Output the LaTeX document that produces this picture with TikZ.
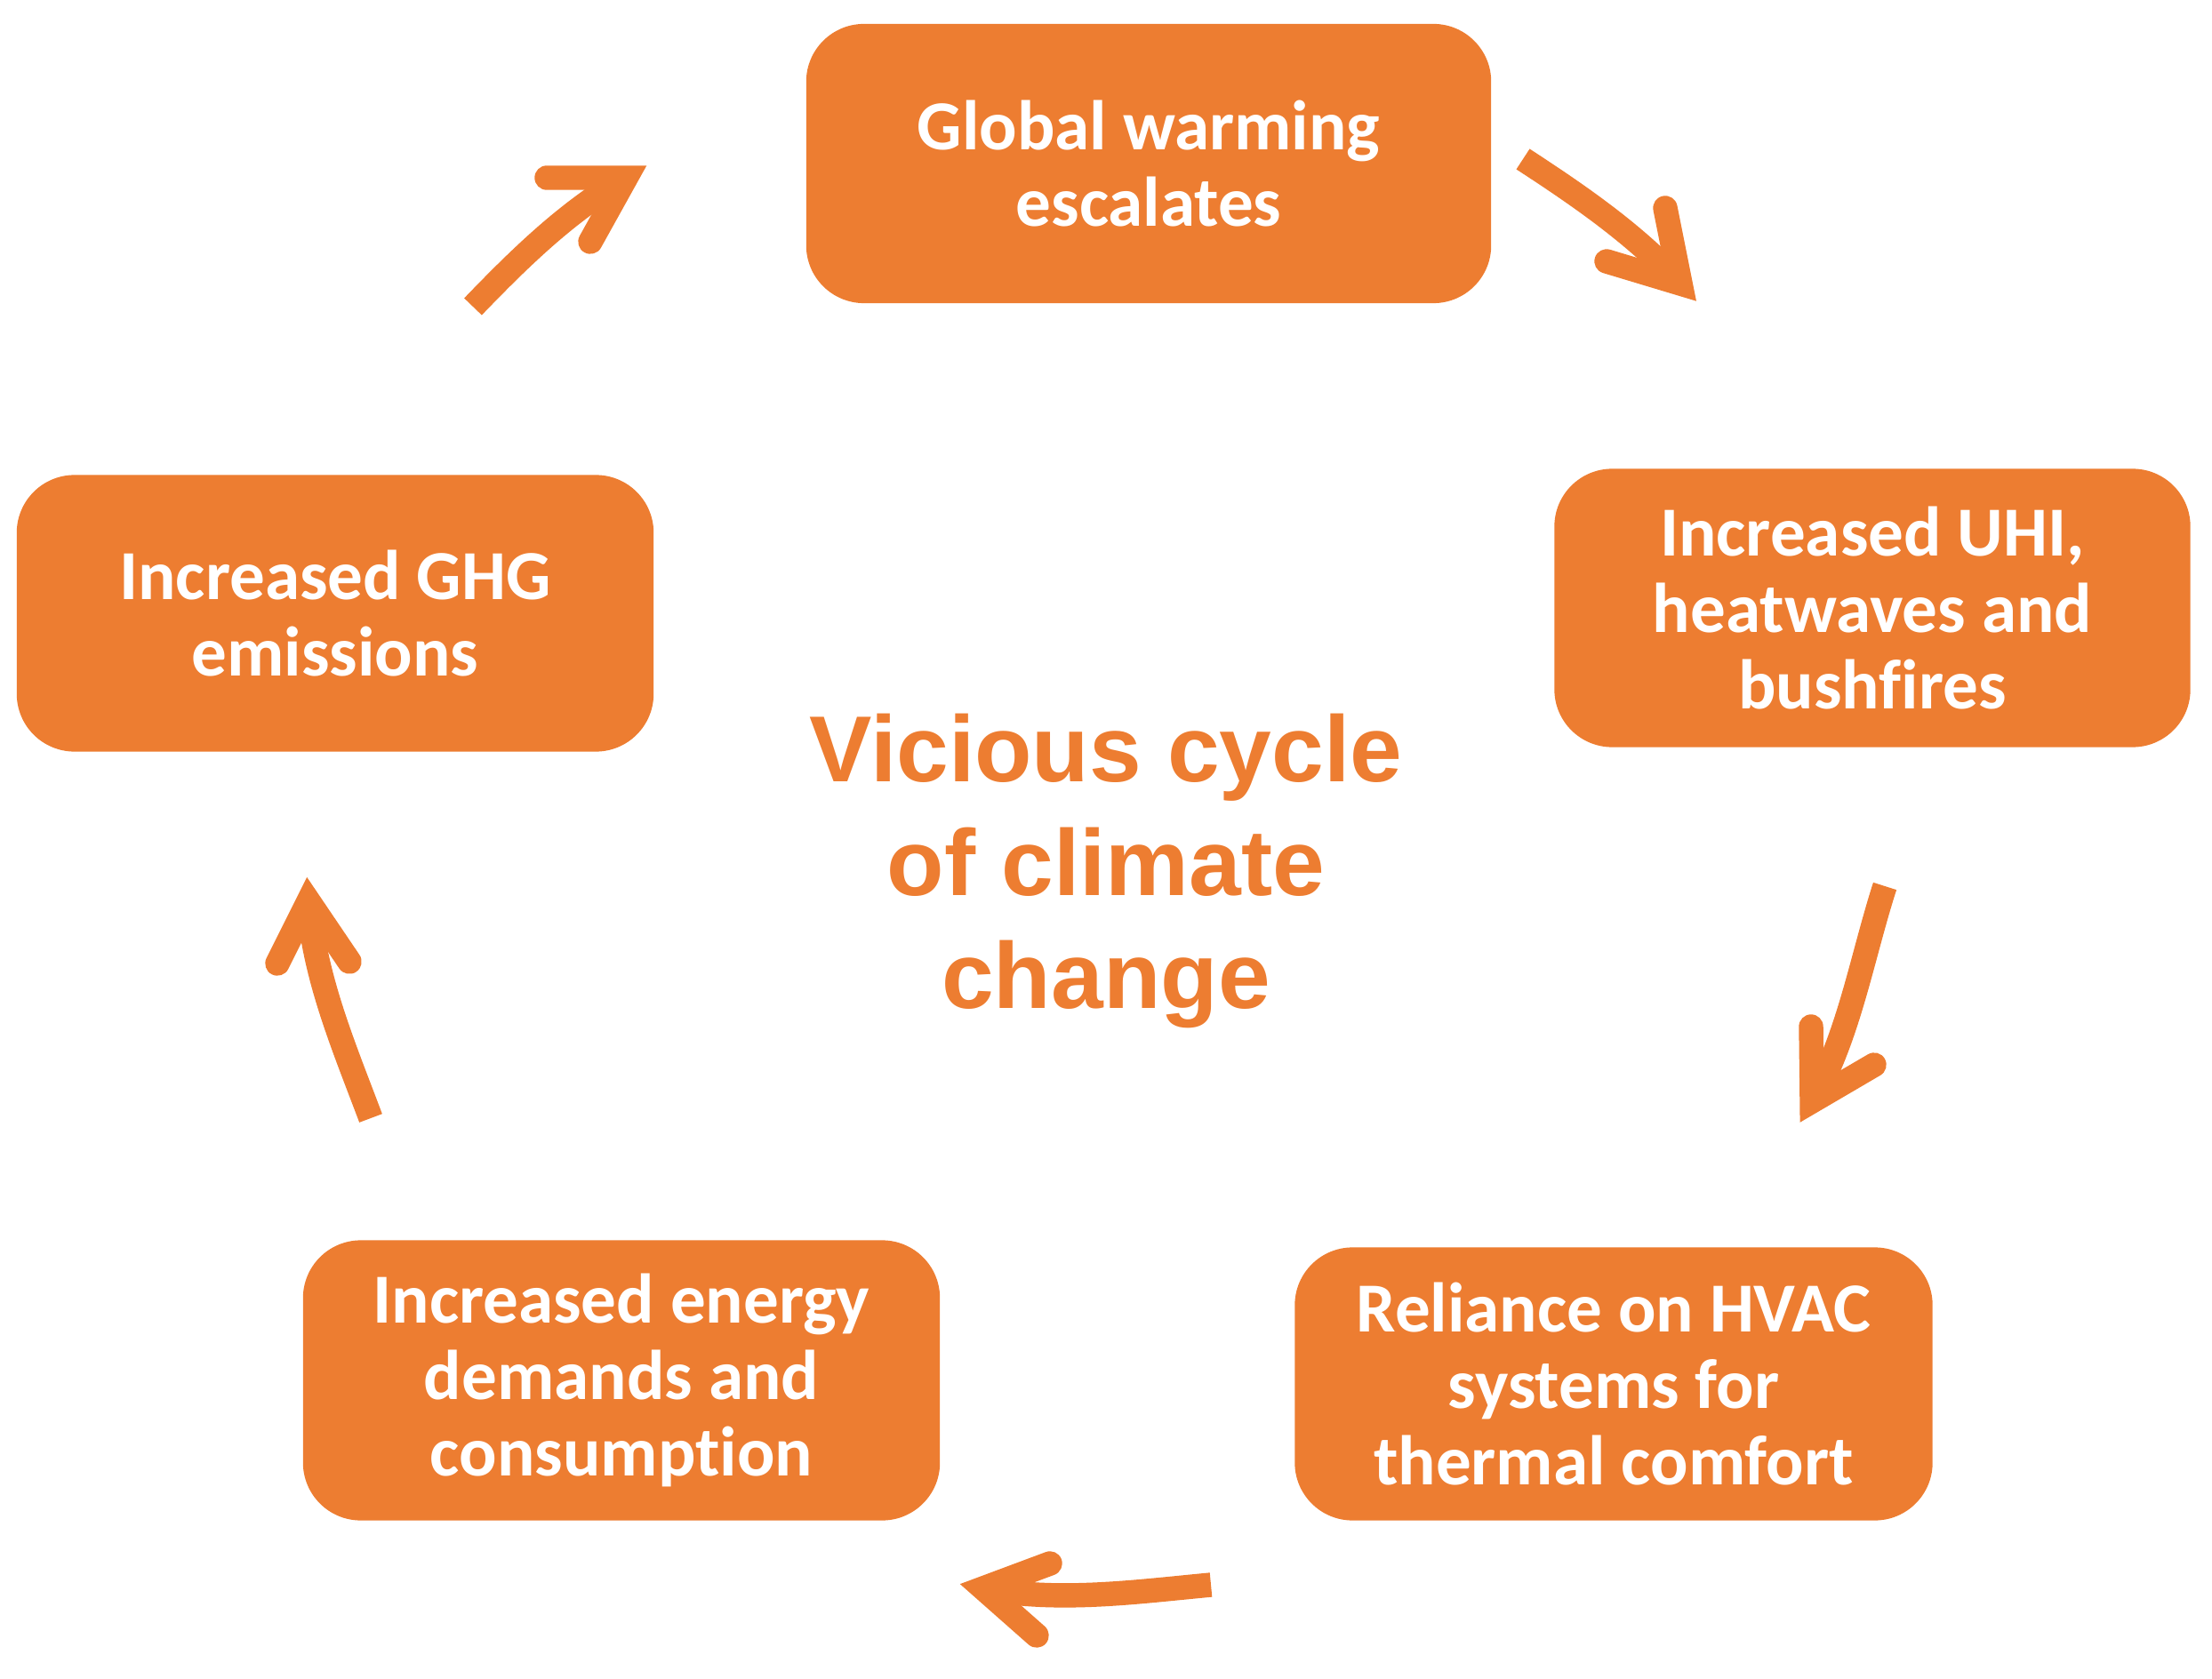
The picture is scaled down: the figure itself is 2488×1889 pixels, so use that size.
\documentclass[tikz,border=0pt]{standalone}
\usepackage{fontspec}
\setmainfont{Carlito}[Ligatures=NoCommon]
\newfontfamily\titlefont{Liberation Sans}
\definecolor{acc}{RGB}{237,125,49}
\begin{document}
\begin{tikzpicture}[x=0.01cm,y=-0.01cm,
  box/.style={fill=acc, rounded corners=0.65cm, minimum height=3.13cm, align=center, text=white,
    font=\bfseries\fontsize{22.5}{24.4}\selectfont, inner sep=0pt},
  shaft/.style={draw=acc, line width=7.8pt, line cap=butt},
  head/.style={draw=acc, line width=7.8pt, line cap=round, line join=miter, miter limit=10},
  ]
\useasboundingbox (0,0) rectangle (2488,1889);

\node[box, minimum width=7.70cm, minimum height=3.14cm] (gw) at (1292,184) {Global warming\\escalates};
\node[box, minimum width=7.15cm] (uhi) at (2106,684) {Increased UHI,\\heatwaves and\\bushfires};
\node[box, minimum width=7.17cm, minimum height=3.07cm] (hvac) at (1815,1557) {Reliance on HVAC\\systems for\\thermal comfort};
\node[box, minimum width=7.16cm, minimum height=3.15cm] (energy) at (699,1553) {Increased energy\\demands and\\consumption};
\node[box, minimum width=7.16cm, minimum height=3.11cm] (ghg) at (377,690) {Increased GHG\\emissions};

\node[font=\titlefont\bfseries\fontsize{30}{36.2}\selectfont, text=acc, align=center, inner sep=0pt] (title) at (1244,980) {Vicious cycle\\of climate\\change};

% arrow 1: ghg -> gw
\coordinate (a1t) at (532,345);
\coordinate (a1v) at (704,200);
\coordinate (a1b) at (615,200);
\coordinate (a1c) at (664,272);
\draw[shaft] (a1t) .. controls (584,291) and (639,237) .. (a1v);
\draw[head] (a1b) -- (a1v) -- (a1c);

% arrow 2: gw -> uhi
\coordinate (a2t) at (1713,179);
\coordinate (a2v) at (1890,319);
\coordinate (a2b) at (1873,234);
\coordinate (a2c) at (1807,294);
\draw[shaft] (a2t) .. controls (1776,220) and (1840,264) .. (a2v);
\draw[head] (a2b) -- (a2v) -- (a2c);

% arrow 3: uhi -> hvac
\coordinate (a3t) at (2120,997);
\coordinate (a3v) at (2038,1239);
\coordinate (a3b) at (2037,1155);
\coordinate (a3c) at (2108,1198);
\draw[shaft] (a3t) .. controls (2094,1078) and (2080,1165) .. (a3v);
\draw[head] (a3b) -- (a3v) -- (a3c);

% arrow 4: hvac -> energy
\coordinate (a4t) at (1362,1783);
\coordinate (a4v) at (1106,1787);
\coordinate (a4b) at (1181,1759);
\coordinate (a4c) at (1166,1840);
\draw[shaft] (a4t) .. controls (1277,1791) and (1190,1803) .. (a4v);
\draw[head] (a4b) -- (a4v) -- (a4c);

% arrow 5: energy -> ghg
\coordinate (a5t) at (417,1258);
\coordinate (a5v) at (347,1014);
\coordinate (a5b) at (312,1084);
\coordinate (a5c) at (393,1082);
\draw[shaft] (a5t) .. controls (387,1178) and (353,1099) .. (a5v);
\draw[head] (a5b) -- (a5v) -- (a5c);
\end{tikzpicture}
\end{document}
